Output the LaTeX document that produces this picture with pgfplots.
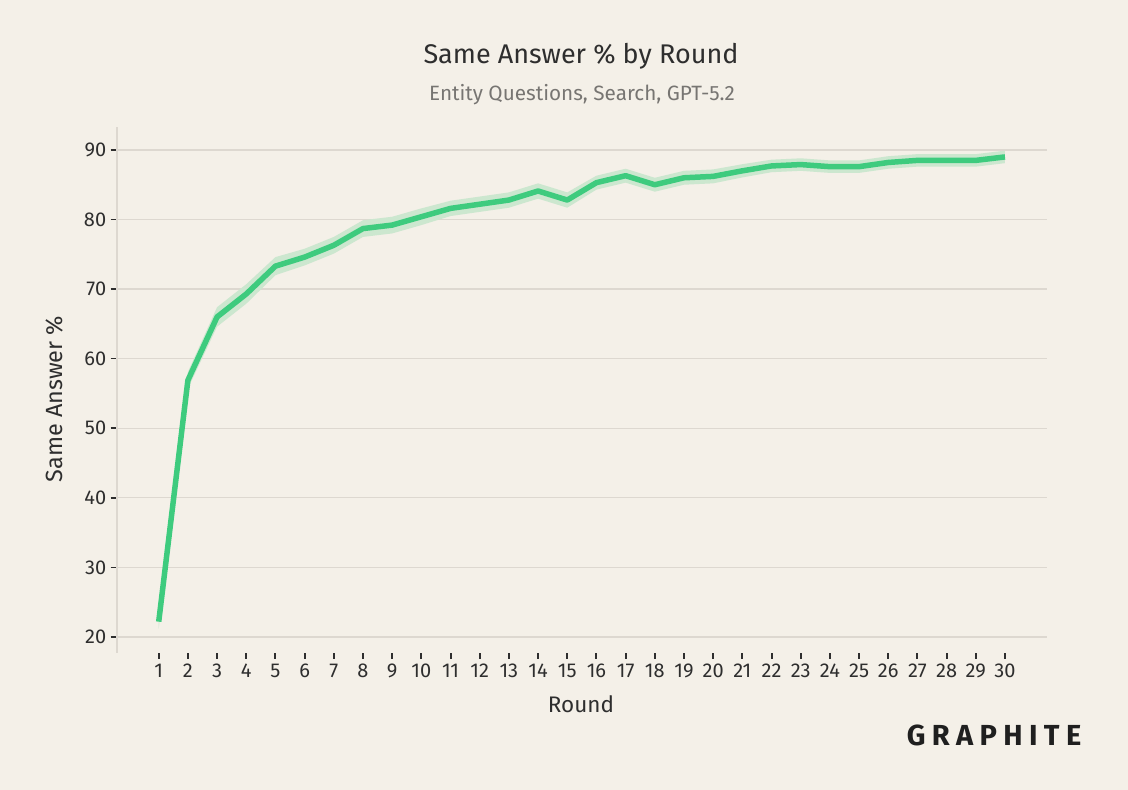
\documentclass[border=0pt]{standalone}
\usepackage{pgfplots}
\pgfplotsset{compat=1.18}
\usepackage{pgfplotstable}
\usepackage{fontspec}
\setmainfont{Fira Sans}
\definecolor{bg}{HTML}{F4F0E8}
\definecolor{gridc}{HTML}{DDD8D0}
\definecolor{linec}{HTML}{3ECB7E}
\definecolor{bandc}{HTML}{CCE7CF}
\definecolor{txt}{HTML}{2E2E2E}
\definecolor{subtxt}{HTML}{777572}
\pgfplotstableread{
x y
1 22.2
2 56.9
3 66.0
4 69.3
5 73.3
6 74.6
7 76.3
8 78.7
9 79.2
10 80.4
11 81.6
12 82.2
13 82.8
14 84.1
15 82.8
16 85.3
17 86.3
18 85.0
19 86.0
20 86.2
21 87.0
22 87.7
23 87.9
24 87.6
25 87.6
26 88.2
27 88.5
28 88.5
29 88.5
30 89.0
}\datatable
% confidence band: upper edge for rounds 1..30, then lower edge for rounds 30..1
\pgfplotstableread{
x b
1 23.2
2 58.1
3 67.4
4 70.7
5 74.6
6 75.8
7 77.5
8 79.9
9 80.4
10 81.6
11 82.7
12 83.3
13 83.9
14 85.2
15 83.9
16 86.3
17 87.3
18 86.0
19 87.0
20 87.2
21 87.95
22 88.6
23 88.8
24 88.5
25 88.5
26 89.1
27 89.4
28 89.4
29 89.4
30 89.9
30 88.1
29 87.6
28 87.6
27 87.6
26 87.3
25 86.7
24 86.7
23 87.0
22 86.8
21 86.05
20 85.2
19 85.0
18 84.0
17 85.3
16 84.3
15 81.7
14 83.0
13 81.7
12 81.1
11 80.5
10 79.2
9 78.0
8 77.5
7 75.1
6 73.4
5 72.0
4 67.9
3 64.6
2 55.7
1 21.2
}\bandtable
\begin{document}
\begin{tikzpicture}
\fill[bg] (0pt,0pt) rectangle (1128pt,790pt);
\begin{axis}[
  at={(116.7pt,137.3pt)}, anchor=south west,
  scale only axis, width=930pt, height=525.7pt,
  xmin=-0.44, xmax=31.43, ymin=17.74, ymax=93.3,
  axis x line*=bottom, axis y line*=left,
  x axis line style={draw=none},
  y axis line style={-, color=gridc, line width=2pt},
  xtick={1,...,30}, ytick={20,30,...,90},
  ymajorgrids, grid style={color=gridc, line width=1.3pt},
  tick align=outside, major tick length=6pt,
  xtick style={color=txt, line width=2pt},
  ytick style={color=txt, line width=1.5pt},
  tick label style={font=\fontsize{20}{20}\selectfont, color=txt},
  /pgf/number format/assume math mode=true,
  xticklabel style={yshift=-2pt},
  yticklabel style={xshift=-1pt},
  clip=false,
]
\addplot[fill=bandc, draw=none, forget plot] table[x=x, y=b] {\bandtable} -- cycle;
\addplot[linec, line width=5.5pt, line join=round] table[x=x, y=y] {\datatable};
\end{axis}
\node[font=\fontsize{27}{27}\selectfont, color=txt] at (581pt,734pt) {Same Answer \% by Round};
\node[font=\fontsize{20.7}{20.7}\selectfont, color=subtxt] at (582pt,695pt) {Entity Questions, Search, GPT-5.2};
\node[font=\fontsize{22.5}{22.5}\selectfont, color=txt] at (581pt,86pt) {Round};
\node[font=\fontsize{23.4}{23.4}\selectfont, color=txt, rotate=90] at (55pt,391pt) {Same Answer \%};
\node[font=\fontsize{29}{29}\selectfont\bfseries\addfontfeature{LetterSpace=22}, color=black!88] at (994pt,55pt) {GRAPHITE};
\end{tikzpicture}
\end{document}
